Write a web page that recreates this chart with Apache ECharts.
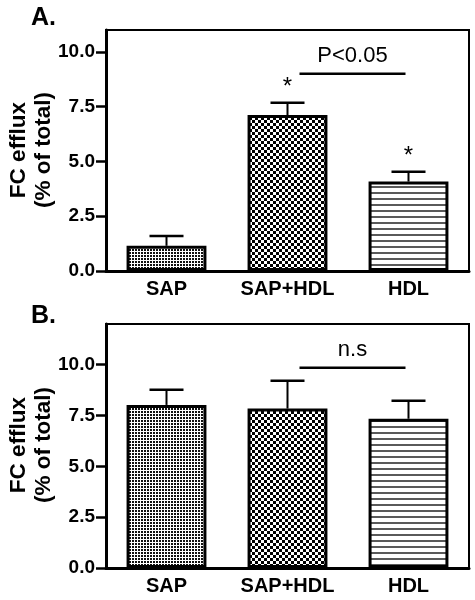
<!DOCTYPE html>
<html>
<head>
<meta charset="utf-8">
<script src="https://cdn.jsdelivr.net/npm/echarts@6/dist/echarts.min.js"></script>
<style>html,body{margin:0;padding:0;background:#fff}#c{width:475px;height:600px}</style>
</head>
<body>
<div id="c"></div>
<script>
const categories = ['SAP', 'SAP+HDL', 'HDL'];
const yTicks = [0, 2.5, 5, 7.5, 10];
const meanA = [1.15, 7.12, 4.08];
const errA = [0.45, 0.56, 0.45];
const starsA = ['', '*', '*'];
const meanB = [8.02, 7.84, 7.34];
const errB = [0.75, 1.37, 0.89];
const starsB = ['', '', ''];
const sigA = [1, 9.0, 2];
const sigTextA = 'P<0.05';
const sigB = [1, 9.85, 2];
const sigTextB = 'n.s';
const yMaxA = 11;
const yMaxB = 12;
const panelLabels = ['A.', 'B.'];
const yTitle = 'FC efflux\n(% of total)';

const FONT = "'Liberation Sans', Arial, sans-serif";

function pat(w, h, draw) {
  const c = document.createElement('canvas');
  c.width = w; c.height = h;
  const g = c.getContext('2d');
  g.fillStyle = '#fff'; g.fillRect(0, 0, w, h);
  g.fillStyle = '#000';
  draw(g);
  return { image: c, repeat: 'repeat' };
}
const patterns = [
  pat(3, 3, g => { g.fillStyle = '#111'; g.fillRect(0, 0, 2, 2); }),
  pat(6, 6, g => { g.fillRect(0, 0, 3, 3); g.fillRect(3, 3, 3, 3); }),
  pat(6, 6, g => { g.fillStyle = '#5a5a5a'; g.fillRect(0, 0, 6, 2); })
];

const chart = echarts.init(document.getElementById('c'), null, { renderer: 'canvas' });

function xAxisCfg(gi) {
  return {
    type: 'category', gridIndex: gi, data: categories,
    axisLine: { lineStyle: { color: '#000', width: 3 } },
    axisTick: { alignWithLabel: true, length: 7, lineStyle: { color: '#000', width: 2.5 } },
    axisLabel: { color: '#000', fontWeight: 'bold', fontSize: 20, fontFamily: FONT, margin: 8,
      interval: 0, hideOverlap: false }
  };
}
function yAxisCfg(gi, max) {
  return {
    type: 'value', gridIndex: gi, min: 0, max: max, interval: 2.5,
    axisLine: { show: true, lineStyle: { color: '#000', width: 3 } },
    axisTick: { show: true, length: 10, customValues: yTicks, lineStyle: { color: '#000', width: 2.5 } },
    axisLabel: { color: '#000', fontWeight: 'bold', fontSize: 19, fontFamily: FONT, margin: 11,
      customValues: yTicks, formatter: v => v.toFixed(1) },
    splitLine: { show: false }
  };
}
function barSeries(gi, means) {
  return {
    type: 'bar', xAxisIndex: gi, yAxisIndex: gi, barWidth: '66%', z: 2,
    data: means.map((v, i) => ({ value: v, itemStyle: { color: patterns[i] } })),
    itemStyle: { borderColor: '#000', borderWidth: 3 },
    emphasis: { disabled: true }, silent: true
  };
}
function errSeries(gi, means, errs, stars) {
  return {
    type: 'custom', xAxisIndex: gi, yAxisIndex: gi, z: 1, silent: true,
    data: means.map((v, i) => [i, v, errs[i]]),
    renderItem: (params, api) => {
      const x = api.value(0), v = api.value(1), e = api.value(2);
      const p0 = api.coord([x, v]);
      const p1 = api.coord([x, v + e]);
      const half = 17;
      const children = [
        { type: 'line', shape: { x1: p0[0], y1: p0[1], x2: p1[0], y2: p1[1] }, style: { stroke: '#000', lineWidth: 2 } },
        { type: 'line', shape: { x1: p1[0] - half, y1: p1[1], x2: p1[0] + half, y2: p1[1] }, style: { stroke: '#000', lineWidth: 2.5 } }
      ];
      const s = stars[params.dataIndex];
      if (s) {
        children.push({ type: 'text', style: { text: s, x: p1[0], y: p1[1] - 15, align: 'center', verticalAlign: 'middle',
          fill: '#000', font: '24px ' + FONT } });
      }
      return { type: 'group', children: children };
    }
  };
}
function sigSeries(gi, sig, text) {
  return {
    type: 'custom', xAxisIndex: gi, yAxisIndex: gi, z: 3, silent: true,
    data: [sig],
    renderItem: (params, api) => {
      const a = api.coord([api.value(0), api.value(1)]);
      const b = api.coord([api.value(2), api.value(1)]);
      const x1 = a[0] + 12, x2 = b[0] - 3;
      return { type: 'group', children: [
        { type: 'line', shape: { x1: x1, y1: a[1], x2: x2, y2: a[1] }, style: { stroke: '#000', lineWidth: 2.5 } },
        { type: 'text', style: { text: text, x: (x1 + x2) / 2, y: a[1] - 18, align: 'center', verticalAlign: 'middle',
          fill: '#000', font: '22px ' + FONT } }
      ] };
    }
  };
}
function yTitleGraphic(cy) {
  return { type: 'text', x: 31, y: cy, rotation: Math.PI / 2,
    style: { text: yTitle, align: 'center', verticalAlign: 'middle', fill: '#000',
      font: 'bold 22.5px ' + FONT, lineHeight: 25 } };
}

chart.setOption({
  animation: false,
  backgroundColor: '#fff',
  grid: [
    { left: 106, top: 30, width: 363, height: 241, show: true, borderColor: '#000', borderWidth: 2, backgroundColor: 'transparent', containLabel: false, outerBoundsMode: 'none' },
    { left: 106, top: 324, width: 363, height: 244, show: true, borderColor: '#000', borderWidth: 2, backgroundColor: 'transparent', containLabel: false, outerBoundsMode: 'none' }
  ],
  xAxis: [xAxisCfg(0), xAxisCfg(1)],
  yAxis: [yAxisCfg(0, yMaxA), yAxisCfg(1, yMaxB)],
  graphic: [
    { type: 'text', left: 31, top: 6, style: { text: panelLabels[0], fill: '#000', font: 'bold 25px ' + FONT } },
    { type: 'text', left: 31, top: 304, style: { text: panelLabels[1], fill: '#000', font: 'bold 25px ' + FONT } },
    yTitleGraphic(150),
    yTitleGraphic(445)
  ],
  series: [
    barSeries(0, meanA), errSeries(0, meanA, errA, starsA), sigSeries(0, sigA, sigTextA),
    barSeries(1, meanB), errSeries(1, meanB, errB, starsB), sigSeries(1, sigB, sigTextB)
  ]
});
</script>
</body>
</html>
